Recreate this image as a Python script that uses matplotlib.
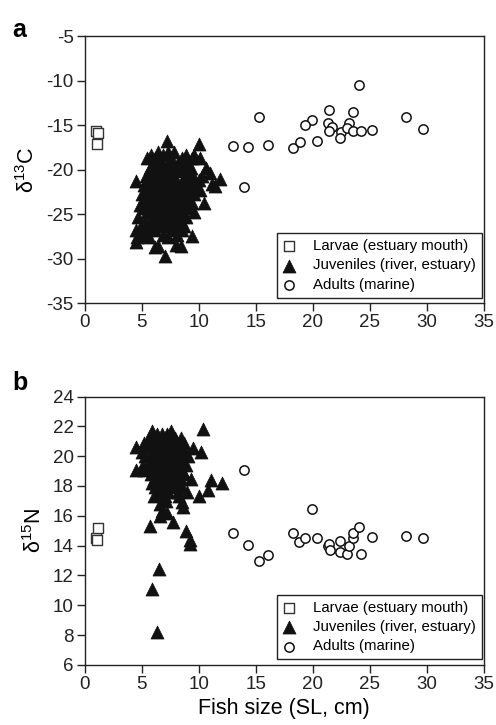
import matplotlib
matplotlib.use('Agg')
import matplotlib.pyplot as plt

plt.rcParams['font.family'] = ['Liberation Sans', 'DejaVu Sans']
plt.rcParams['mathtext.fontset'] = 'custom'
plt.rcParams['mathtext.rm'] = 'Liberation Sans'
plt.rcParams['mathtext.it'] = 'Liberation Sans'
plt.rcParams['axes.unicode_minus'] = False

# larvae (estuary mouth)
larvae_size = [1.0, 1.2, 1.1]
larvae_d13c = [-15.6, -15.9, -17.1]
larvae_d15n = [14.5, 15.2, 14.4]

# adults (marine)
adult_a_size = [15.3, 13.0, 14.3, 16.05, 14.0, 18.3, 24.1, 21.4, 23.5, 19.9, 19.3, 21.3,
                21.7, 21.4, 22.5, 22.4, 23.2, 23.0, 23.5, 24.2, 25.2, 20.4, 18.9, 28.2, 29.7]
adult_a_d13c = [-14.1, -17.3, -17.5, -17.2, -21.9, -17.6, -10.5, -13.3, -13.5, -14.4, -15.0, -14.7,
                -15.2, -15.6, -15.75, -16.4, -14.7, -15.3, -15.6, -15.6, -15.5, -16.8, -16.9, -14.1, -15.4]
adult_b_size = [14.0, 13.0, 14.3, 15.3, 16.05, 18.3, 18.8, 19.9, 19.3, 20.4, 21.3, 21.4,
                21.5, 22.4, 22.4, 23.0, 23.2, 23.5, 23.5, 24.1, 24.2, 25.2, 28.2, 29.7]
adult_b_d15n = [19.1, 14.85, 14.06, 12.94, 13.39, 14.85, 14.24, 16.46, 14.5, 14.5, 13.95, 14.1,
                13.73, 14.3, 13.55, 13.44, 13.95, 14.5, 14.85, 15.25, 13.44, 14.58, 14.67, 14.5]

# juveniles (river, estuary)
juv_a_size = [7.2, 10.0,
              6.4, 7.3, 7.8,
              5.8, 6.9, 8.9, 9.6,
              5.5, 6.2, 7.6, 8.5, 9.4, 10.1,
              6.0, 6.8, 7.4, 8.2, 9.0,
              5.7, 6.5, 7.1, 7.9, 8.6, 9.3, 10.6,
              6.1, 6.9, 7.5, 8.3, 9.1, 11.0,
              5.4, 6.3, 7.0, 7.7, 8.8, 9.5, 10.3, 11.9,
              4.5, 5.8, 6.6, 7.3, 8.0, 8.6, 9.2, 10.0, 11.2,
              5.2, 6.0, 6.8, 7.5, 8.2, 9.0, 9.7, 11.4,
              5.5, 6.4, 7.1, 7.9, 8.5, 9.3, 10.1,
              5.0, 5.9, 6.7, 7.4, 8.1, 8.9, 9.6,
              5.4, 6.2, 7.0, 7.7, 8.4, 9.1,
              4.8, 5.7, 6.5, 7.3, 8.0, 8.7, 9.4, 10.5,
              5.2, 6.0, 6.9, 7.6, 8.3, 9.0,
              5.5, 6.3, 7.1, 7.8, 8.5, 9.6,
              4.7, 5.9, 6.7, 7.4, 8.2, 8.9,
              5.3, 6.1, 7.0, 7.7, 8.4,
              4.9, 5.7, 6.5, 7.2, 8.0, 8.7,
              4.5, 5.4, 6.2, 7.6, 8.5,
              5.0, 6.9, 8.1, 9.4,
              4.6, 5.6, 7.3,
              4.5, 6.4, 8.0,
              6.2, 8.4,
              7.0]
juv_a_d13c = [-16.8, -17.1,
              -18.0, -18.0, -18.0,
              -18.4, -18.4, -18.4, -18.4,
              -18.7, -18.7, -18.7, -18.7, -18.7, -18.7,
              -19.3, -19.3, -19.3, -19.3, -19.3,
              -19.8, -19.8, -19.8, -19.8, -19.8, -19.8, -19.8,
              -20.2, -20.2, -20.2, -20.2, -20.2, -20.4,
              -20.7, -20.7, -20.7, -20.7, -20.7, -20.7, -20.7, -21.0,
              -21.3, -21.2, -21.2, -21.2, -21.2, -21.2, -21.2, -21.2, -21.6,
              -21.7, -21.7, -21.7, -21.7, -21.7, -21.7, -21.7, -21.8,
              -22.2, -22.2, -22.2, -22.2, -22.2, -22.2, -22.3,
              -22.7, -22.7, -22.7, -22.7, -22.7, -22.7, -22.7,
              -23.2, -23.2, -23.2, -23.2, -23.2, -23.2,
              -24.0, -23.8, -23.8, -23.8, -23.8, -23.8, -23.8, -23.8,
              -24.3, -24.3, -24.3, -24.3, -24.3, -24.3,
              -24.8, -24.8, -24.8, -24.8, -24.8, -24.8,
              -25.3, -25.3, -25.3, -25.3, -25.3, -25.3,
              -25.8, -25.8, -25.8, -25.8, -25.8,
              -26.3, -26.3, -26.3, -26.3, -26.3, -26.3,
              -26.8, -26.8, -26.8, -26.8, -26.8,
              -27.3, -27.3, -27.3, -27.5,
              -27.6, -27.6, -27.6,
              -28.1, -28.6, -28.5,
              -28.7, -28.6,
              -29.7]

juv_b_size = [10.4,
              5.9, 7.6,
              6.3, 6.8, 7.2,
              5.6, 6.5, 7.0, 7.9, 8.4,
              5.2, 6.0, 6.7, 7.4, 8.1, 8.7,
              4.5, 5.5, 6.3, 7.0, 7.7, 8.4, 9.5,
              5.0, 5.9, 6.6, 7.3, 8.0, 8.8, 10.2,
              5.3, 6.2, 6.9, 7.6, 8.3, 9.1,
              5.7, 6.5, 7.2, 7.9, 8.6,
              5.1, 6.0, 6.8, 7.5, 8.2, 8.9,
              4.5, 5.2, 6.3, 7.1, 7.8, 8.5,
              5.8, 6.6, 7.3, 8.0, 8.7,
              6.1, 6.9, 7.6, 8.4, 9.3, 11.1,
              5.9, 6.7, 7.4, 8.1, 12.0,
              6.2, 7.0, 7.8, 8.5, 10.8,
              6.5, 7.3, 8.2, 9.0,
              6.1, 7.0, 8.3, 10.0,
              7.1, 8.5,
              6.6, 8.6,
              6.8, 7.2,
              6.6, 7.7, 5.7, 8.9, 9.2, 9.2,
              6.5, 5.9, 6.3]
juv_b_d15n = [21.8,
              21.7, 21.7,
              21.5, 21.5, 21.5,
              21.2, 21.2, 21.2, 21.2, 21.2,
              20.9, 20.9, 20.9, 20.9, 20.9, 20.9,
              20.6, 20.6, 20.6, 20.6, 20.6, 20.6, 20.55,
              20.3, 20.3, 20.3, 20.3, 20.3, 20.3, 20.3,
              20.0, 20.0, 20.0, 20.0, 20.0, 20.0,
              19.7, 19.7, 19.7, 19.7, 19.7,
              19.4, 19.4, 19.4, 19.4, 19.4, 19.4,
              19.1, 19.1, 19.1, 19.1, 19.1, 19.1,
              18.8, 18.8, 18.8, 18.8, 18.8,
              18.5, 18.5, 18.5, 18.5, 18.5, 18.4,
              18.2, 18.2, 18.2, 18.2, 18.2,
              17.9, 17.9, 17.9, 17.9, 17.75,
              17.6, 17.6, 17.6, 17.6,
              17.3, 17.3, 17.3, 17.3,
              17.0, 16.9,
              16.8, 16.6,
              16.3, 16.2,
              16.0, 15.6, 15.3, 15.0, 14.4, 14.1,
              12.4, 11.1, 8.2]


def draw_panel(ax, larvae_y, juv_x, juv_y, adult_x, adult_y):
    ax.scatter(larvae_size, larvae_y, marker='s', s=55, facecolor='white',
               edgecolor='#333333', linewidth=1.0, zorder=3,
               label='Larvae (estuary mouth)')
    ax.scatter(juv_x, juv_y, marker='^', s=88, facecolor='#111111',
               edgecolor='#111111', linewidth=0.5, zorder=2,
               label='Juveniles (river, estuary)')
    ax.scatter(adult_x, adult_y, marker='o', s=45, facecolor='white',
               edgecolor='#111111', linewidth=1.1, zorder=3,
               label='Adults (marine)')
    ax.set_xlim(0, 35)
    ax.set_xticks(range(0, 36, 5))
    ax.tick_params(direction='out', length=6, width=1, labelsize=13.5,
                   colors='#222222', pad=2)
    for sp in ax.spines.values():
        sp.set_linewidth(1.0)
        sp.set_color('#222222')
    leg = ax.legend(loc='lower right', bbox_to_anchor=(0.995, 0.02), borderaxespad=0,
                    fontsize=10.8, frameon=True, fancybox=False,
                    handletextpad=1.1, labelspacing=0.35, markerscale=1.0,
                    borderpad=0.4, handlelength=0.9, framealpha=1)
    leg.get_frame().set_edgecolor('#222222')
    leg.get_frame().set_linewidth(1.0)


def main():
    fig = plt.figure(figsize=(4.96, 7.25), dpi=100)

    ax1 = fig.add_axes([0.171, 0.582, 0.804, 0.368])
    draw_panel(ax1, larvae_d13c, juv_a_size, juv_a_d13c, adult_a_size, adult_a_d13c)
    ax1.set_ylim(-35, -5)
    ax1.set_yticks(range(-35, -4, 5))
    ax1.set_ylabel(r'δ$^{13}$C', fontsize=15.5, labelpad=5)

    ax2 = fig.add_axes([0.171, 0.083, 0.804, 0.370])
    draw_panel(ax2, larvae_d15n, juv_b_size, juv_b_d15n, adult_b_size, adult_b_d15n)
    ax2.set_ylim(6, 24)
    ax2.set_yticks(range(6, 25, 2))
    ax2.set_ylabel(r'δ$^{15}$N', fontsize=15.5, labelpad=5)
    ax2.set_xlabel('Fish size (SL, cm)', fontsize=15.5, labelpad=4)

    fig.text(0.025, 0.975, 'a', fontsize=18, fontweight='bold', va='top')
    fig.text(0.025, 0.488, 'b', fontsize=18, fontweight='bold', va='top')

    fig.savefig('out.png', dpi=100)


if __name__ == '__main__':
    main()
